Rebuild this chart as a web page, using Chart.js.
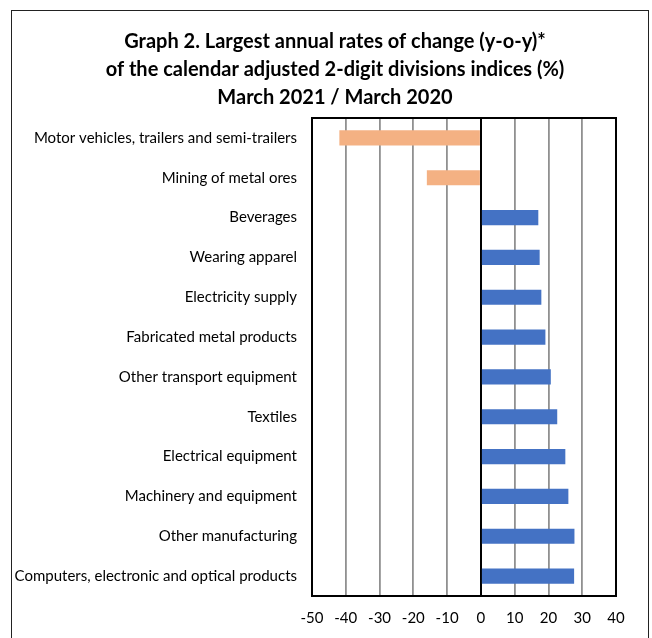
<!DOCTYPE html>
<html>
<head>
<meta charset="utf-8">
<script src="https://cdn.jsdelivr.net/npm/chart.js@4"></script>
<style>
  body { margin: 0; background: #fff; }
  #wrap { position: relative; width: 652px; height: 638px; overflow: hidden; }
  #frame { position: absolute; left: 11px; top: 10px; width: 636px; height: 660px; border: 1.5px solid #222; }
  canvas { position: absolute; left: 0; top: 0; }
</style>
</head>
<body>
<div id="wrap">
  <div id="frame"></div>
  <canvas id="chart" width="652" height="638"></canvas>
</div>
<script>
// data
const categories = [
    "Motor vehicles, trailers and semi-trailers",
    "Mining of metal ores",
    "Beverages",
    "Wearing apparel",
    "Electricity supply",
    "Fabricated metal products",
    "Other transport equipment",
    "Textiles",
    "Electrical equipment",
    "Machinery and equipment",
    "Other manufacturing",
    "Computers, electronic and optical products"
];
const changes = [-41.9, -16.0, 17.0, 17.4, 17.9, 19.1, 20.7, 22.6, 25.0, 25.9, 27.7, 27.6];
const titleLines = [
    "Graph 2. Largest annual rates of change (y-o-y)*",
    "of the calendar adjusted 2-digit divisions indices (%)",
    "March 2021 / March 2020"
];
const xMin = -50;
const xMax = 40;

const fontFamily = "Lato, 'Open Sans', sans-serif";

// black box round the plot area
const plotBox = {
    id: "plotBox",
    afterDraw(chart) {
        const a = chart.chartArea;
        const ctx = chart.ctx;
        ctx.save();
        ctx.strokeStyle = "#000";
        ctx.lineWidth = 2;
        ctx.strokeRect(a.left, a.top, a.right - a.left, a.bottom - a.top);
        ctx.restore();
    }
};

// the title sits off-centre in the original, so draw it by hand
const headTitle = {
    id: "headTitle",
    afterDraw(chart) {
        const ctx = chart.ctx;
        ctx.save();
        ctx.fillStyle = "#000";
        ctx.font = "bold 20px " + fontFamily;
        ctx.textAlign = "center";
        ctx.textBaseline = "middle";
        titleLines.forEach((line, i) => ctx.fillText(line, 335, 42 + i * 28));
        ctx.restore();
    }
};

new Chart(document.getElementById("chart"), {
    type: "bar",
    data: {
        labels: categories,
        datasets: [{
            data: changes,
            backgroundColor: changes.map(v => v < 0 ? "#F4B183" : "#4472C4"),
            barPercentage: 0.38,
            categoryPercentage: 1
        }]
    },
    options: {
        indexAxis: "y",
        responsive: false,
        animation: false,
        layout: { padding: { top: 118, right: 36, bottom: 0, left: 0 } },
        plugins: {
            legend: { display: false },
            tooltip: { enabled: false },
            title: { display: false }
        },
        scales: {
            x: {
                min: xMin,
                max: xMax,
                ticks: {
                    stepSize: 10,
                    color: "#000",
                    padding: 13,
                    font: { family: fontFamily, size: 15 }
                },
                grid: {
                    drawTicks: false,
                    color: ctx => ctx.tick && ctx.tick.value === 0 ? "#000" : "#909090",
                    lineWidth: ctx => ctx.tick && ctx.tick.value === 0 ? 2 : 1.8
                },
                border: { display: false },
                afterFit(scale) { scale.height = 42; }
            },
            y: {
                ticks: {
                    color: "#000",
                    padding: 7,
                    font: { family: fontFamily, size: 15 }
                },
                grid: { display: false },
                border: { display: false },
                afterFit(scale) { scale.width = 312; }
            }
        }
    },
    plugins: [plotBox, headTitle]
});
</script>
</body>
</html>
